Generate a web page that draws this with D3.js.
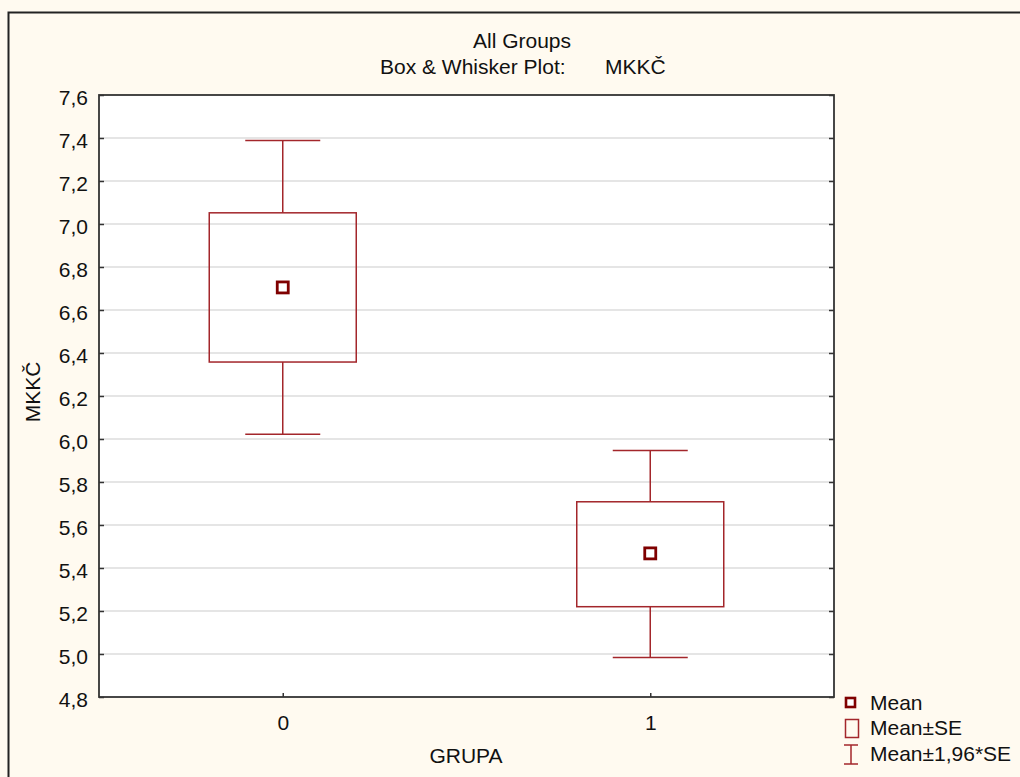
<!DOCTYPE html>
<html>
<head>
<meta charset="utf-8">
<script src="https://cdn.jsdelivr.net/npm/d3@7"></script>
<style>
  body { margin: 0; background: #fffaf0; }
  svg text { font-family: "Liberation Sans", Arial, sans-serif; fill: #111; }
</style>
</head>
<body>
<svg id="chart" width="1020" height="777"></svg>
<script>
// values
const groups = ["0", "1"];
const means = [6.705, 5.468];
const seLow = [6.358, 5.220];
const seHigh = [7.052, 5.708];
const ciLow = [6.022, 4.984];
const ciHigh = [7.388, 5.946];
const yTicks = [4.8, 5.0, 5.2, 5.4, 5.6, 5.8, 6.0, 6.2, 6.4, 6.6, 6.8, 7.0, 7.2, 7.4, 7.6];

const boxColor = "#a3262b";
const meanColor = "#7f0000";
const fs = 21;

const svg = d3.select("#chart");
const margin = { top: 95, right: 186, bottom: 80, left: 99 };
const width = 1020 - margin.left - margin.right;
const height = 777 - margin.top - margin.bottom;

// outer frame (runs off the right and bottom edges)
svg.append("rect")
  .attr("x", 8.5).attr("y", 12.5)
  .attr("width", 1100).attr("height", 900)
  .attr("fill", "#fffaf0")
  .attr("stroke", "#222").attr("stroke-width", 2);

// titles
svg.append("text").attr("x", 522).attr("y", 48)
  .attr("text-anchor", "middle").attr("font-size", fs).text("All Groups");
svg.append("text").attr("x", 380).attr("y", 74)
  .attr("font-size", fs).text("Box & Whisker Plot:");
svg.append("text").attr("x", 605).attr("y", 74)
  .attr("font-size", fs).text("MKKČ");

const g = svg.append("g").attr("transform", `translate(${margin.left},${margin.top})`);

const y = d3.scaleLinear().domain([4.8, 7.6]).range([height, 0]);
const x = d3.scalePoint().domain(groups).range([0, width]).padding(0.5);

g.append("rect")
  .attr("width", width).attr("height", height)
  .attr("fill", "#fff");

// grid
g.selectAll(".grid")
  .data(yTicks.slice(1, -1))
  .enter().append("line")
  .attr("x1", 0).attr("x2", width)
  .attr("y1", d => y(d)).attr("y2", d => y(d))
  .attr("stroke", "#dcdcdc").attr("stroke-width", 1.5);

const fmt = d => d.toFixed(1).replace(".", ",");

const yAxis = g.append("g")
  .call(d3.axisLeft(y).tickValues(yTicks).tickSize(-5).tickPadding(11).tickFormat(fmt));
yAxis.select(".domain").remove();
yAxis.selectAll("text").attr("font-size", fs).attr("dy", "0.45em")
  .attr("font-family", "Liberation Sans, Arial, sans-serif");
yAxis.selectAll("line").attr("stroke", "#333").attr("stroke-width", 1.5);

const yAxisR = g.append("g").attr("transform", `translate(${width},0)`)
  .call(d3.axisRight(y).tickValues(yTicks).tickSize(-5).tickFormat(""));
yAxisR.select(".domain").remove();
yAxisR.selectAll("line").attr("stroke", "#333").attr("stroke-width", 1.5);

const xAxis = g.append("g").attr("transform", `translate(0,${height})`)
  .call(d3.axisBottom(x).tickSize(-4).tickPadding(18));
xAxis.select(".domain").remove();
xAxis.selectAll("text").attr("font-size", fs)
  .attr("font-family", "Liberation Sans, Arial, sans-serif");
xAxis.selectAll("line").attr("stroke", "#333").attr("stroke-width", 1.5);

// whiskers and boxes
const boxW = 147;
const capW = 75;
groups.forEach((grp, i) => {
  const cx = x(grp);
  g.append("line")
    .attr("x1", cx).attr("x2", cx)
    .attr("y1", y(ciHigh[i])).attr("y2", y(seHigh[i]))
    .attr("stroke", boxColor).attr("stroke-width", 1.5);
  g.append("line")
    .attr("x1", cx).attr("x2", cx)
    .attr("y1", y(seLow[i])).attr("y2", y(ciLow[i]))
    .attr("stroke", boxColor).attr("stroke-width", 1.5);
  [ciHigh[i], ciLow[i]].forEach(v => {
    g.append("line")
      .attr("x1", cx - capW / 2).attr("x2", cx + capW / 2)
      .attr("y1", y(v)).attr("y2", y(v))
      .attr("stroke", boxColor).attr("stroke-width", 1.5);
  });
  g.append("rect")
    .attr("x", cx - boxW / 2).attr("y", y(seHigh[i]))
    .attr("width", boxW).attr("height", y(seLow[i]) - y(seHigh[i]))
    .attr("fill", "none")
    .attr("stroke", boxColor).attr("stroke-width", 1.5);
  g.append("rect")
    .attr("x", cx - 5.5).attr("y", y(means[i]) - 5.5)
    .attr("width", 11).attr("height", 11)
    .attr("fill", "#fff")
    .attr("stroke", meanColor).attr("stroke-width", 2.8);
});

// plot frame
g.append("rect")
  .attr("width", width).attr("height", height)
  .attr("fill", "none")
  .attr("stroke", "#333").attr("stroke-width", 1.8);

// axis titles
svg.append("text")
  .attr("transform", "translate(40,392) rotate(-90)")
  .attr("text-anchor", "middle").attr("font-size", fs).text("MKKČ");
svg.append("text").attr("x", 466).attr("y", 763)
  .attr("text-anchor", "middle").attr("font-size", fs).text("GRUPA");

// legend
const lg = svg.append("g");
lg.append("rect")
  .attr("x", 846).attr("y", 698).attr("width", 9).attr("height", 9)
  .attr("fill", "#fff").attr("stroke", meanColor).attr("stroke-width", 2.6);
lg.append("text").attr("x", 870).attr("y", 710).attr("font-size", fs).text("Mean");
lg.append("rect")
  .attr("x", 845.5).attr("y", 719.5).attr("width", 13).attr("height", 18)
  .attr("fill", "none").attr("stroke", boxColor).attr("stroke-width", 1.5);
lg.append("text").attr("x", 870).attr("y", 735).attr("font-size", fs).text("Mean±SE");
lg.append("line").attr("x1", 851).attr("x2", 851).attr("y1", 745).attr("y2", 764)
  .attr("stroke", boxColor).attr("stroke-width", 1.5);
lg.append("line").attr("x1", 844).attr("x2", 858).attr("y1", 745).attr("y2", 745)
  .attr("stroke", boxColor).attr("stroke-width", 1.5);
lg.append("line").attr("x1", 844).attr("x2", 858).attr("y1", 764).attr("y2", 764)
  .attr("stroke", boxColor).attr("stroke-width", 1.5);
lg.append("text").attr("x", 870).attr("y", 761).attr("font-size", fs).text("Mean±1,96*SE");
</script>
</body>
</html>
